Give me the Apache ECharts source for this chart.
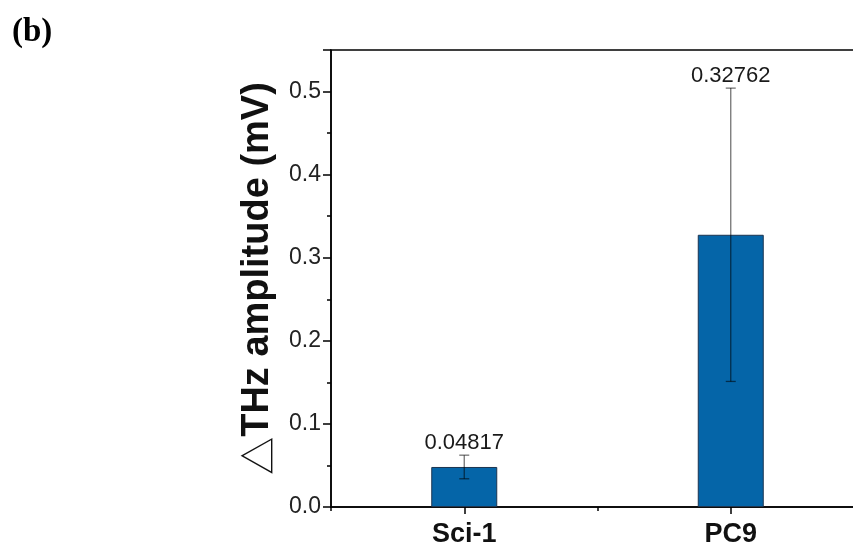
<!DOCTYPE html>
<html>
<head>
<meta charset="utf-8">
<script src="https://cdn.jsdelivr.net/npm/echarts@6/dist/echarts.min.js"></script>
<style>
  html, body { margin: 0; padding: 0; background: #fff; overflow: hidden; }
  #main { width: 864px; height: 546px; position: relative; }
  #tag { position: absolute; left: 12px; top: 12px; font: bold 33px "Liberation Serif", "Times New Roman", serif; }
</style>
</head>
<body>
<div id="main"></div>
<div id="tag">(b)</div>
<script>
var categories = ['Sci-1', 'PC9'];
var amplitude = [0.04817, 0.32762];
var errors = [0.0142, 0.1765];
var yTicks = { min: 0, max: 0.55, interval: 0.1 };

// the plot runs past the right edge of the 853px window, so the chart box is a bit wider
var chart = echarts.init(document.getElementById('main'));

var errData = categories.map(function (c, i) {
    return [i, amplitude[i], errors[i]];
});

var option = {
    animation: false,
    grid: {
        left: 331, top: 50, right: 0, bottom: 39,
        outerBoundsMode: 'none',
        show: true, borderColor: '#000', borderWidth: 1.5, backgroundColor: 'transparent'
    },
    xAxis: [
        {
            type: 'category',
            data: categories,
            axisLine: { show: true, lineStyle: { color: '#000', width: 1.5 } },
            axisTick: { show: true, alignWithLabel: true, length: 7, lineStyle: { color: '#000', width: 1.5 } },
            axisLabel: {
                color: '#111', fontSize: 27, fontWeight: 'bold',
                fontFamily: 'Liberation Sans, Arial, sans-serif', margin: 14
            },
            splitLine: { show: false }
        },
        {   // short ticks between the groups
            type: 'category',
            data: categories,
            position: 'bottom',
            axisLine: { show: false },
            axisTick: { show: true, length: 4, lineStyle: { color: '#000', width: 1.5 } },
            axisLabel: { show: false },
            splitLine: { show: false }
        }
    ],
    yAxis: {
        type: 'value',
        min: yTicks.min, max: yTicks.max, interval: yTicks.interval,
        name: '{t|△}THz amplitude (mV)',
        nameLocation: 'middle',
        nameRotate: 90,
        nameGap: 54,
        nameTextStyle: {
            fontSize: 38, fontWeight: 'bold', color: '#111',
            fontFamily: 'Liberation Sans, Arial, sans-serif',
            rich: {
                t: { fontSize: 38, fontWeight: 'normal', color: '#111', fontFamily: 'Noto Sans CJK JP, sans-serif' }
            }
        },
        axisLine: { show: true, lineStyle: { color: '#000', width: 1.5 } },
        axisTick: { show: true, length: 8, lineStyle: { color: '#000', width: 1.5 } },
        minorTick: { show: true, splitNumber: 2, length: 4, lineStyle: { color: '#000', width: 1.5 } },
        axisLabel: {
            color: '#222', fontSize: 23, margin: 10, showMaxLabel: false,
            fontFamily: 'Liberation Sans, Arial, sans-serif',
            formatter: function (v) { return v.toFixed(1); }
        },
        splitLine: { show: false }
    },
    series: [
        {
            type: 'bar',
            data: amplitude,
            barWidth: 66,
            itemStyle: { color: '#0565a8', borderColor: '#1d3550', borderWidth: 1 }
        },
        {
            type: 'custom',
            data: errData,
            z: 10,
            renderItem: function (params, api) {
                var x = api.value(0), v = api.value(1), e = api.value(2);
                var hi = api.coord([x, v + e]);
                var lo = api.coord([x, v - e]);
                var cap = 5;
                var st = { stroke: 'rgba(0,0,0,0.55)', lineWidth: 1.3 };
                return {
                    type: 'group',
                    children: [
                        { type: 'line', shape: { x1: hi[0], y1: hi[1], x2: lo[0], y2: lo[1] }, style: st },
                        { type: 'line', shape: { x1: hi[0] - cap, y1: hi[1], x2: hi[0] + cap, y2: hi[1] }, style: st },
                        { type: 'line', shape: { x1: lo[0] - cap, y1: lo[1], x2: lo[0] + cap, y2: lo[1] }, style: st },
                        {
                            type: 'text',
                            style: {
                                x: hi[0], y: hi[1] - 1,
                                text: String(v),
                                align: 'center', verticalAlign: 'bottom',
                                fill: '#1a1a1a', fontSize: 22,
                                fontFamily: 'Liberation Sans, Arial, sans-serif'
                            }
                        }
                    ]
                };
            }
        }
    ]
};

chart.setOption(option);
</script>
</body>
</html>
